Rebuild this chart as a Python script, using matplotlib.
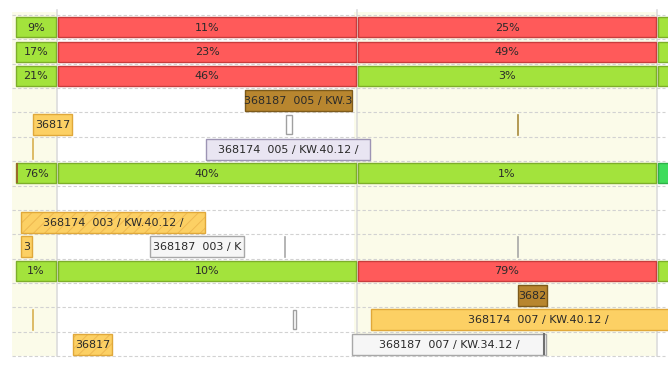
import matplotlib
matplotlib.use("Agg")
import matplotlib.pyplot as plt
from matplotlib.patches import Rectangle

# period columns (time units), the leftmost one is a short stub
period_bounds = [-0.14, 0.0, 1.0, 2.0, 2.3]

# summary rows with a progress value per period
progress_rows = [0, 1, 2, 6, 10]
progress_labels = [
    ["9%", "11%", "25%", ""],
    ["17%", "23%", "49%", ""],
    ["21%", "46%", "3%", ""],
    ["76%", "40%", "1%", ""],
    ["1%", "10%", "79%", ""],
]
progress_status = [
    ["ok", "late", "late", "ok"],
    ["ok", "late", "late", "ok"],
    ["ok", "late", "ok", "ok"],
    ["ok", "ok", "ok", "done"],
    ["ok", "ok", "late", "ok"],
]

# task bars
task_rows = [3, 4, 5, 8, 9, 9, 11, 12, 13, 13]
task_start = [0.627, -0.08, 0.497, -0.12, -0.12, 0.31, 1.537, 1.047, 0.053, 0.983]
task_end = [0.983, 0.05, 1.043, 0.493, -0.083, 0.623, 1.633, 2.16, 0.183, 1.63]
task_labels = ["368187  005 / KW.3", "36817", "368174  005 / KW.40.12 /",
               "368174  003 / KW.40.12 /", "3", "368187  003 / K", "3682",
               "368174  007 / KW.40.12 /", "36817", "368187  007 / KW.34.12 /"]
task_kinds = ["brown", "yellow", "lavender", "hatched", "yellow", "white",
              "brown", "yellow", "hatched", "white"]

# thin markers inside rows
marker_rows = [4, 4, 5, 9, 9, 12, 12, 6]
marker_x = [0.763, 1.537, -0.08, 0.76, 1.537, -0.08, 0.787, -0.137]
marker_kinds = ["slot", "line_brown", "line_gold", "line_gray", "line_gray",
                "line_gold", "slot_thin", "edge"]

n_rows = 14

status_colors = {"ok": ("#a3e33c", "#7dae2a"), "late": ("#ff5a5a", "#c83c3c"),
                 "done": ("#3fdc5c", "#2fb048")}
kind_colors = {"brown": ("#b8862f", "#7d5a1a"), "yellow": ("#fcd064", "#e0a83a"),
               "lavender": ("#e9e5f2", "#9d94b4"), "hatched": ("#fcd064", "#e0a83a"),
               "white": ("#f6f6f6", "#a8a8a8")}

plt.rcParams["hatch.linewidth"] = 0.7

fig = plt.figure(figsize=(6.68, 3.66), dpi=100)
ax = fig.add_axes([0, 0, 1, 1])
ax.set_xlim(-57 / 300, 611 / 300)
ax.set_ylim((366 - 15) / 24.36, -15 / 24.36)
ax.axis("off")

# background columns
for i in range(len(period_bounds) - 1):
    if i in (0, 2):
        x0 = period_bounds[i] - 0.01
        ax.add_patch(Rectangle((x0, -0.12), period_bounds[i + 1] - x0, n_rows + 0.12,
                               facecolor="#fbfbe9", edgecolor="none", zorder=0))
for b in period_bounds[1:4]:
    ax.plot([b, b], [-0.2, n_rows], color="#dcdcdc", lw=1.2, zorder=1)
for r in range(n_rows + 1):
    ax.plot([period_bounds[0] - 0.01, 2.025], [r, r], color="#d2d2d2", lw=0.8,
            ls=(0, (3, 2)), zorder=1)

# progress rows
for row, labels, stats in zip(progress_rows, progress_labels, progress_status):
    for i, (lab, st) in enumerate(zip(labels, stats)):
        x0 = period_bounds[i] + 0.004
        x1 = period_bounds[i + 1] - 0.004
        fc, ec = status_colors[st]
        ax.add_patch(Rectangle((x0, row + 0.09), x1 - x0, 0.82, facecolor=fc,
                               edgecolor=ec, lw=1, zorder=3))
        if lab:
            ax.text((x0 + x1) / 2, row + 0.52, lab, ha="center", va="center",
                    fontsize=8, color="#2a2a2a", zorder=5)

# task bars
for row, s, e, lab, kind in zip(task_rows, task_start, task_end, task_labels, task_kinds):
    fc, ec = kind_colors[kind]
    if kind == "hatched":
        ax.add_patch(Rectangle((s, row + 0.08), e - s, 0.86, facecolor=fc,
                               edgecolor="#eeb850", lw=0, hatch="///", zorder=3))
        ax.add_patch(Rectangle((s, row + 0.08), e - s, 0.86, facecolor="none",
                               edgecolor=ec, lw=1, zorder=4))
    else:
        ax.add_patch(Rectangle((s, row + 0.08), e - s, 0.86, facecolor=fc,
                               edgecolor=ec, lw=1, zorder=3))
    if kind == "white" and row == 13:
        ax.plot([e - 0.006, e - 0.006], [row + 0.1, row + 0.92], color="#707070",
                lw=1.5, zorder=4)
    ax.text((s + e) / 2, row + 0.53, lab, ha="center", va="center",
            fontsize=8, color="#2a2a2a", zorder=5)

# markers
for row, x, kind in zip(marker_rows, marker_x, marker_kinds):
    if kind == "slot":
        ax.add_patch(Rectangle((x, row + 0.1), 0.02, 0.8, facecolor="white",
                               edgecolor="#a0a0a0", lw=1, zorder=3))
    elif kind == "slot_thin":
        ax.add_patch(Rectangle((x, row + 0.1), 0.01, 0.8, facecolor="white",
                               edgecolor="#a0a0a0", lw=1, zorder=3))
    elif kind == "edge":
        ax.add_patch(Rectangle((x, row + 0.09), 0.007, 0.82, facecolor="#9a6a2a",
                               edgecolor="none", zorder=4))
    else:
        col = {"line_brown": "#a88a3a", "line_gold": "#d8b050",
               "line_gray": "#a8a8a8"}[kind]
        ax.plot([x, x], [row + 0.1, row + 0.92], color=col, lw=1.2, zorder=3)

fig.savefig("out.png", dpi=100)
